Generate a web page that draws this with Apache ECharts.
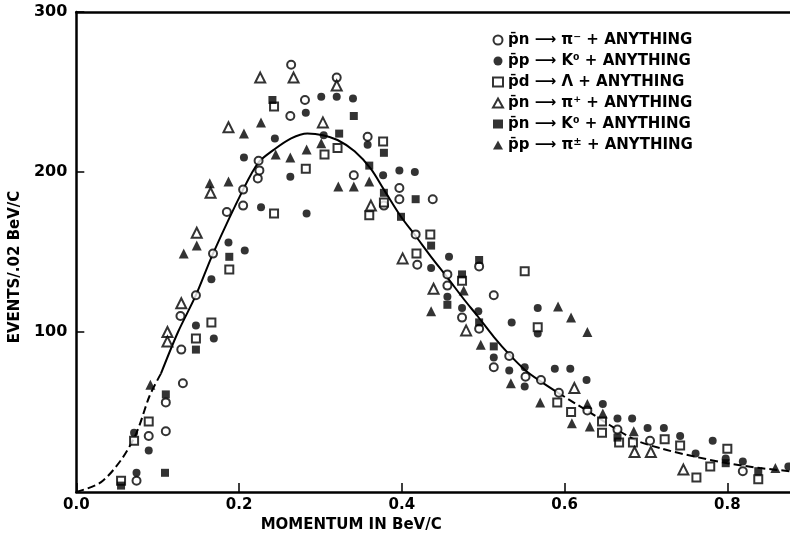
<!DOCTYPE html>
<html>
<head>
<meta charset="utf-8">
<script src="https://cdn.jsdelivr.net/npm/echarts@6/dist/echarts.min.js"></script>
<style>
  html, body { margin: 0; padding: 0; background: #fff; }
  #main { width: 790px; height: 540px; }
</style>
</head>
<body>
<div id="main"></div>
<script>
// momentum spectra, [momentum BeV/c, events / .02 BeV/c]
var piMinusN = [[0.074, 7], [0.089, 35], [0.110, 38], [0.110, 56], [0.131, 68], [0.129, 89], [0.128, 110],
  [0.147, 123], [0.168, 149], [0.185, 175], [0.205, 179], [0.205, 189], [0.223, 196], [0.225, 201],
  [0.224, 207], [0.264, 267], [0.263, 235], [0.281, 245], [0.320, 259], [0.341, 198], [0.358, 222],
  [0.378, 179], [0.397, 190], [0.397, 183], [0.417, 161], [0.419, 142], [0.438, 183], [0.456, 136],
  [0.456, 129], [0.474, 109], [0.495, 141], [0.495, 102], [0.513, 123], [0.513, 78], [0.532, 85],
  [0.552, 72], [0.571, 70], [0.593, 62], [0.628, 51], [0.665, 39], [0.705, 32], [0.819, 13]]
var k0P = [[0.074, 12], [0.089, 26], [0.071, 37], [0.147, 104], [0.169, 96], [0.166, 133], [0.187, 156],
  [0.207, 151], [0.206, 209], [0.227, 178], [0.244, 221], [0.263, 197], [0.282, 237], [0.283, 174],
  [0.301, 247], [0.320, 247], [0.304, 223], [0.340, 246], [0.358, 217], [0.377, 198], [0.397, 201],
  [0.416, 200], [0.436, 140], [0.458, 147], [0.456, 122], [0.474, 115], [0.494, 113], [0.513, 84],
  [0.532, 76], [0.535, 106], [0.551, 78], [0.551, 66], [0.567, 115], [0.567, 99], [0.588, 77],
  [0.607, 77], [0.627, 70], [0.647, 55], [0.665, 46], [0.683, 46], [0.702, 40], [0.722, 40],
  [0.742, 35], [0.761, 24], [0.782, 32], [0.798, 21], [0.819, 19], [0.875, 16]]
var lambdaD = [[0.055, 7], [0.089, 44], [0.071, 32], [0.147, 96], [0.166, 106], [0.188, 139], [0.243, 241],
  [0.243, 174], [0.282, 202], [0.305, 211], [0.321, 215], [0.360, 173], [0.377, 219], [0.378, 181],
  [0.435, 161], [0.418, 149], [0.474, 132], [0.551, 138], [0.567, 103], [0.591, 56], [0.608, 50],
  [0.646, 44], [0.646, 37], [0.667, 31], [0.684, 31], [0.723, 33], [0.742, 29], [0.762, 9],
  [0.779, 16], [0.800, 27], [0.838, 8]]
var piPlusN = [[0.112, 100], [0.112, 94], [0.129, 118], [0.148, 162], [0.165, 187], [0.187, 228],
  [0.226, 259], [0.267, 259], [0.303, 231], [0.320, 254], [0.362, 179], [0.401, 146], [0.439, 127],
  [0.479, 101], [0.612, 65], [0.686, 25], [0.706, 25], [0.746, 14]]
var k0N = [[0.055, 4], [0.109, 12], [0.110, 61], [0.147, 89], [0.188, 147], [0.241, 245], [0.341, 235],
  [0.323, 224], [0.360, 204], [0.378, 212], [0.378, 187], [0.417, 183], [0.399, 172], [0.436, 154],
  [0.456, 117], [0.474, 136], [0.495, 145], [0.495, 106], [0.513, 91], [0.665, 34], [0.798, 18],
  [0.838, 13]]
var piPmP = [[0.091, 67], [0.132, 149], [0.148, 154], [0.164, 193], [0.187, 194], [0.206, 224],
  [0.227, 231], [0.245, 211], [0.263, 209], [0.283, 214], [0.301, 218], [0.322, 191], [0.341, 191],
  [0.360, 194], [0.436, 113], [0.476, 126], [0.497, 92], [0.534, 68], [0.570, 56], [0.592, 116],
  [0.608, 109], [0.628, 100], [0.609, 43], [0.628, 55], [0.631, 41], [0.647, 49], [0.685, 38],
  [0.859, 15]]

// fitted curve, dashed at both ends
var curveLeft = [[0.0, 0], [0.03, 6], [0.055, 20], [0.074, 37], [0.09, 60], [0.104, 74]]
var curveMid = [[0.104, 74], [0.125, 100], [0.147, 123], [0.168, 149], [0.205, 189], [0.224, 206],
  [0.243, 214], [0.264, 221], [0.284, 224], [0.303, 223], [0.321, 220], [0.342, 213], [0.362, 202],
  [0.378, 189], [0.399, 172], [0.417, 160], [0.436, 147], [0.456, 134], [0.477, 120], [0.493, 110],
  [0.513, 97], [0.532, 86], [0.552, 76], [0.571, 69], [0.592, 62]]
var curveRight = [[0.592, 62], [0.627, 51], [0.685, 33], [0.72, 27], [0.761, 22], [0.80, 18],
  [0.84, 15], [0.877, 13]]

var names = ['p\u0304n \u27F6 \u03C0\u207B + ANYTHING', 'p\u0304p \u27F6 K\u2070 + ANYTHING',
  'p\u0304d \u27F6 \u039B + ANYTHING', 'p\u0304n \u27F6 \u03C0\u207A + ANYTHING',
  'p\u0304n \u27F6 K\u2070 + ANYTHING', 'p\u0304p \u27F6 \u03C0\u00B1 + ANYTHING']

var ink = '#000'
var font = 'DejaVu Sans'

function openMark(name, symbol, size, data) {
  return {
    name: name, type: 'scatter', symbol: symbol, symbolSize: size, data: data, z: 5,
    itemStyle: { color: '#fff', borderColor: ink, borderWidth: 2 }
  }
}
function fullMark(name, symbol, size, data) {
  return {
    name: name, type: 'scatter', symbol: symbol, symbolSize: size, data: data, z: 5,
    itemStyle: { color: ink }
  }
}
function curve(data, type) {
  return {
    type: 'line', data: data, smooth: 0.3, symbol: 'none', silent: true, z: 2,
    lineStyle: { color: ink, width: 2, type: type }
  }
}

var chart = echarts.init(document.getElementById('main'))

var option = {
  backgroundColor: '#fff',
  animation: false,
  grid: { left: 75, right: 0, top: 12, bottom: 48 },
  legend: {
    orient: 'vertical', left: 487, top: 27,
    itemWidth: 10, itemHeight: 9, itemGap: 5,
    data: names,
    textStyle: {
      color: ink, fontFamily: font, fontWeight: 'bold', fontSize: 15, lineHeight: 16,
      rich: { s: { fontSize: 10, verticalAlign: 'top', lineHeight: 16, fontWeight: 'bold', color: ink } }
    },
    formatter: function (name) {
      return name.replace('\u00B1', '{s|\u00B1}')
    }
  },
  xAxis: [{
    type: 'value', min: 0, max: 0.877, interval: 0.2,
    name: 'MOMENTUM IN BeV/C', nameLocation: 'middle', nameGap: 25,
    nameTextStyle: { color: ink, fontFamily: font, fontWeight: 'bold', fontSize: 15, padding: [0, 164, 0, 0] },
    axisLine: { lineStyle: { color: ink, width: 2.5 } },
    axisTick: { inside: true, length: 9, lineStyle: { color: ink, width: 1.5 } },
    axisLabel: {
      color: ink, fontFamily: font, fontWeight: 'bold', fontSize: 15, margin: 6,
      showMaxLabel: false,
      formatter: function (v) { return v.toFixed(1) }
    },
    splitLine: { show: false }
  }, {
    // top frame line
    type: 'value', position: 'top', min: 0, max: 0.877,
    axisLine: { lineStyle: { color: ink, width: 2.5 } },
    axisTick: { show: false }, axisLabel: { show: false }, splitLine: { show: false }
  }],
  yAxis: {
    type: 'value', min: 0, max: 300, interval: 100,
    name: 'EVENTS/.02 BeV/C', nameLocation: 'middle', nameGap: 44, nameRotate: 90,
    nameTextStyle: { color: ink, fontFamily: font, fontWeight: 'bold', fontSize: 15, padding: [0, 30, 0, 0] },
    axisLine: { show: true, lineStyle: { color: ink, width: 2.5 } },
    axisTick: { inside: true, length: 8, lineStyle: { color: ink, width: 1.5 } },
    axisLabel: { color: ink, fontFamily: font, fontWeight: 'bold', fontSize: 16, margin: 9, showMinLabel: false },
    splitLine: { show: false }
  },
  series: [
    curve(curveLeft, 'dashed'),
    curve(curveMid, 'solid'),
    curve(curveRight, 'dashed'),
    openMark(names[0], 'circle', 8, piMinusN),
    fullMark(names[1], 'circle', 8, k0P),
    openMark(names[2], 'rect', 8, lambdaD),
    openMark(names[3], 'triangle', 10, piPlusN),
    fullMark(names[4], 'rect', 8, k0N),
    fullMark(names[5], 'triangle', 10, piPmP)
  ]
}
chart.setOption(option)
</script>
</body>
</html>
